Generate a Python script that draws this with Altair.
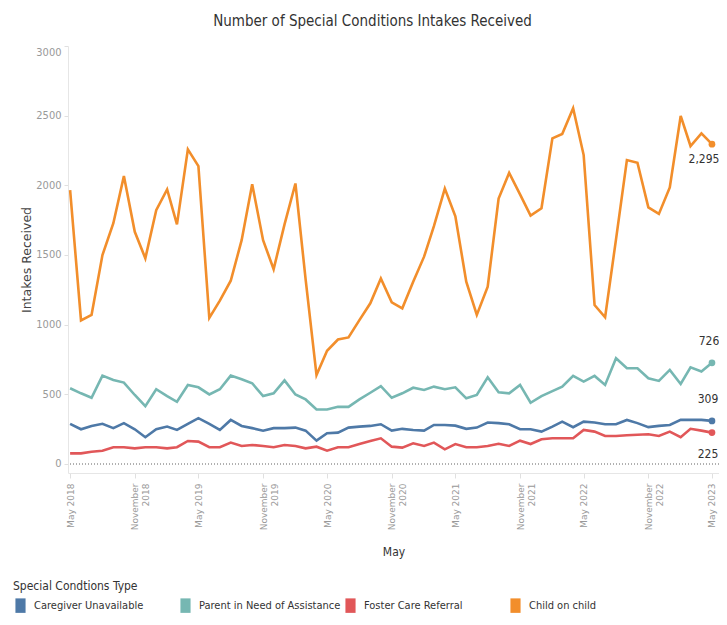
import altair as alt
import pandas as pd

# ---------------- data ----------------
months = pd.date_range("2018-05-01", "2023-05-01", freq="MS").strftime("%Y-%m-%d").tolist()

series_names = ["Caregiver Unavailable", "Parent in Need of Assistance",
                "Foster Care Referral", "Child on child"]
colors = ["#4e79a7", "#76b7b2", "#e15759", "#f28e2b"]

caregiver = [288, 249, 273, 288, 257, 293, 249, 192, 249, 268,
             244, 288, 329, 288, 244, 316, 273, 257, 239, 257,
             257, 261, 239, 167, 220, 225, 261, 268, 273, 285,
             239, 252, 244, 239, 280, 280, 275, 252, 261, 297,
             293, 285, 249, 249, 232, 268, 304, 264, 304, 297,
             285, 285, 316, 293, 264, 273, 280, 316, 316, 316, 309]

parent = [543, 507, 475, 634, 603, 584, 495, 415, 536, 487,
          446, 567, 550, 499, 536, 634, 608, 579, 487, 507,
          600, 499, 463, 391, 391, 410, 410, 463, 511, 559,
          475, 507, 547, 531, 555, 536, 550, 471, 495, 622,
          515, 507, 567, 439, 487, 523, 555, 632, 591, 632,
          567, 759, 687, 687, 615, 596, 675, 574, 694, 663, 726]

foster = [76, 76, 88, 95, 120, 120, 112, 120, 120, 112,
          120, 165, 160, 120, 120, 153, 129, 136, 129, 120,
          136, 129, 112, 124, 95, 120, 120, 143, 165, 184,
          124, 117, 148, 129, 153, 105, 143, 120, 120, 129,
          145, 129, 167, 143, 177, 184, 184, 184, 244, 232,
          201, 201, 206, 210, 213, 201, 232, 192, 252, 239, 225]

child = [1966, 1030, 1070, 1500, 1728, 2066, 1666, 1476, 1822, 1970,
         1720, 2258, 2138, 1048, 1172, 1315, 1606, 2008, 1606, 1398,
         1720, 2013, 1325, 638, 812, 893, 908, 1032, 1153, 1332,
         1160, 1117, 1308, 1488, 1707, 1977, 1778, 1308, 1070, 1273,
         1905, 2090, 1935, 1782, 1835, 2337, 2368, 2554, 2217, 1141,
         1053, 1612, 2181, 2162, 1842, 1795, 1985, 2498, 2282, 2373, 2295]

rows = []
for name, vals in zip(series_names, [caregiver, parent, foster, child]):
    for d, v in zip(months, vals):
        rows.append({"month": d, "type": name, "value": v})
df = pd.DataFrame(rows)
last = df[df["month"] == months[-1]]

FONT = "'DejaVu Sans Condensed', 'Liberation Sans Narrow', sans-serif"
WIDE = "'DejaVu Sans', sans-serif"

tick_dates = [alt.DateTime(year=y, month=m, date=1, utc=True)
              for y in range(2018, 2024) for m in (5, 11)
              if not (y == 2023 and m == 11)]

x = alt.X(
    "month:T",
    scale=alt.Scale(type="utc", domain=[
        alt.DateTime(year=2018, month=4, date=25, utc=True),
        alt.DateTime(year=2023, month=5, date=21, utc=True)]),
    axis=alt.Axis(
        values=tick_dates,
        labelExpr="utcmonth(datum.value) == 4 ? 'May ' + utcyear(datum.value) : ['November', '' + utcyear(datum.value)]",
        labelAngle=270, labelAlign="right", labelBaseline="middle",
        labelPadding=5, labelFont=WIDE, labelFontSize=9, labelColor="#999999",
        labelLineHeight=11, labelOverlap=False, labelFlush=False,
        tickColor="#e0e0e0", tickSize=5, domainColor="#e6e6e6",
        grid=False, title="May", titleFont=FONT, titleFontSize=12,
        titleFontWeight="normal", titleColor="#333333", titlePadding=17,
    ),
)

y = alt.Y(
    "value:Q",
    scale=alt.Scale(domain=[-65, 3000], nice=False, zero=False),
    axis=alt.Axis(
        values=[0, 500, 1000, 1500, 2000, 2500, 3000], format="d",
        labelFont=FONT, labelFontSize=11, labelColor="#999999",
        labelPadding=3, labelFlush=True, ticks=True, tickSize=4,
        tickColor="#e0e0e0", domainColor="#e6e6e6", gridColor="#f0f0f0",
        title="Intakes Received", titleFont=WIDE, titleFontSize=12.5,
        titleFontWeight="normal", titleColor="#444444", titlePadding=2,
    ),
)

color = alt.Color(
    "type:N",
    scale=alt.Scale(domain=series_names, range=colors),
    legend=alt.Legend(
        title="Special Condtions Type", orient="none", direction="horizontal",
        columns=4, legendX=-55, legendY=535, gridAlign="all",
        columnPadding=2, titleFont=FONT, titleFontSize=12,
        titleFontWeight="normal", titleColor="#333333", titlePadding=5,
        labelFont=FONT, labelFontSize=11, labelColor="#333333", labelLimit=300,
        symbolType="M-0.7,-1H0.7V1H-0.7Z", symbolSize=210,
        symbolStrokeWidth=0, symbolOpacity=1, labelOffset=6,
    ),
)

base = alt.Chart(df)
lines = base.mark_line(strokeWidth=2.6).encode(x=x, y=y, color=color)

zero = alt.Chart(df).mark_rule(strokeDash=[1, 2], color="#b0b0b0", strokeWidth=1).encode(
    y=alt.datum(0))

dots = alt.Chart(last).mark_circle(size=45, opacity=1).encode(
    x="month:T", y="value:Q", color=alt.Color("type:N", legend=None))

offsets = {
    "Child on child": (-8, 15),
    "Parent in Need of Assistance": (-3, -22),
    "Caregiver Unavailable": (-4, -22),
    "Foster Care Referral": (-4, 21),
}
labels = []
for name, (ddx, ddy) in offsets.items():
    labels.append(
        alt.Chart(last[last["type"] == name]).mark_text(
            dx=ddx, dy=ddy, font=FONT, fontSize=12, color="#333333", align="center"
        ).encode(x="month:T", y="value:Q", text=alt.Text("value:Q", format=",.0f"))
    )

chart = alt.layer(zero, lines, dots, *labels).properties(
    width=651, height=427,
    title=alt.TitleParams(
        "Number of Special Conditions Intakes Received",
        font=FONT, fontSize=15, fontWeight="normal", color="#333333",
        anchor="middle", dx=-21, offset=17,
    ),
    autosize=alt.AutoSizeParams(type="none"),
    padding={"left": 60, "top": 38, "right": 0, "bottom": 141},
).configure_view(stroke=None)

chart.save("out.html", embed_options={"renderer": "svg", "actions": False})
